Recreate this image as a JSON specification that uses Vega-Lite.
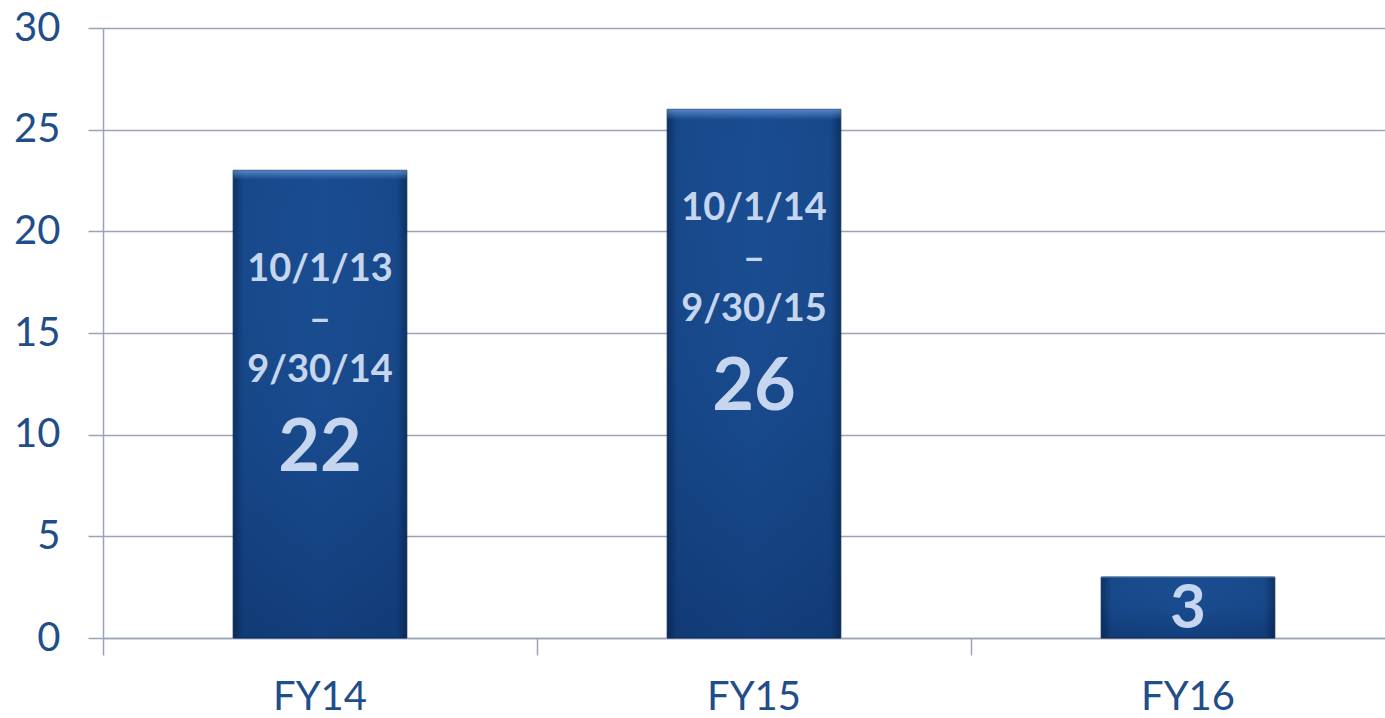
{
  "$schema": "https://vega.github.io/schema/vega-lite/v6.json",
  "autosize": "none",
  "padding": {"left": 103, "top": 28, "right": 0, "bottom": 80},
  "width": 1282,
  "height": 610,
  "background": "white",
  "config": {
    "view": {"stroke": null},
    "font": "Lato",
    "axis": {"labelFont": "Lato", "labelColor": "#1f4e8a", "labelFontSize": 40, "labelFontWeight": "normal"}
  },
  "data": {
    "values": [
      {"fy": "FY14", "value": 23, "label": "22", "start": "10/1/13", "end": "9/30/14"},
      {"fy": "FY15", "value": 26, "label": "26", "start": "10/1/14", "end": "9/30/15"},
      {"fy": "FY16", "value": 3, "label": "3", "start": null, "end": null}
    ]
  },
  "encoding": {
    "x": {
      "field": "fy", "type": "nominal", "sort": null,
      "scale": {"range": [0, 1302], "paddingInner": 0, "paddingOuter": 0},
      "axis": {
        "title": null, "labelAngle": 0, "domain": true, "domainColor": "#9aa3b8", "domainWidth": 1.5,
        "ticks": true, "tickSize": 17, "tickColor": "#9aa3b8", "tickWidth": 1.5, "bandPosition": 0,
        "labelPadding": 22, "grid": false
      }
    },
    "y": {
      "field": "value", "type": "quantitative",
      "scale": {"domain": [0, 30], "nice": false},
      "axis": {
        "title": null, "values": [0, 5, 10, 15, 20, 25, 30],
        "grid": true, "gridColor": "#9aa3b8", "gridWidth": 1.5,
        "domain": true, "domainColor": "#9aa3b8", "domainWidth": 1.5,
        "ticks": true, "tickSize": 15, "tickColor": "#9aa3b8", "tickWidth": 1.5,
        "labelPadding": 28
      }
    }
  },
  "layer": [
    {
      "mark": {
        "type": "bar", "width": {"band": 0.4}, "stroke": "#0c2c5a", "strokeWidth": 1,
        "color": {
          "gradient": "linear", "x1": 0, "y1": 0, "x2": 1, "y2": 0,
          "stops": [
            {"offset": 0, "color": "#0d3163"},
            {"offset": 0.06, "color": "#17488a"},
            {"offset": 0.5, "color": "#194c90"},
            {"offset": 0.94, "color": "#17488a"},
            {"offset": 1, "color": "#0d3163"}
          ]
        }
      }
    },
    {
      "mark": {
        "type": "bar", "width": {"band": 0.4},
        "color": {
          "gradient": "linear", "x1": 0, "y1": 0, "x2": 0, "y2": 1,
          "stops": [
            {"offset": 0, "color": "rgba(110,160,225,0.7)"},
            {"offset": 0.02, "color": "rgba(110,160,225,0.0)"},
            {"offset": 0.6, "color": "rgba(0,20,60,0.05)"},
            {"offset": 1, "color": "rgba(0,20,60,0.25)"}
          ]
        }
      }
    },
    {
      "transform": [{"filter": "datum.start != null"}],
      "mark": {"type": "text", "dy": 100, "baseline": "middle", "align": "center", "fontSize": 38, "fontWeight": "bold", "color": "#c6d6ee"},
      "encoding": {"text": {"field": "start"}}
    },
    {
      "transform": [{"filter": "datum.start != null"}],
      "mark": {"type": "text", "dy": 151, "baseline": "middle", "align": "center", "fontSize": 38, "fontWeight": "bold", "color": "#c6d6ee", "text": "–"},
      "encoding": {}
    },
    {
      "transform": [{"filter": "datum.start != null"}],
      "mark": {"type": "text", "dy": 201, "baseline": "middle", "align": "center", "fontSize": 38, "fontWeight": "bold", "color": "#c6d6ee"},
      "encoding": {"text": {"field": "end"}}
    },
    {
      "transform": [{"filter": "datum.start != null"}],
      "mark": {"type": "text", "dy": 279, "baseline": "middle", "align": "center", "fontSize": 72, "fontWeight": "bold", "color": "#c6d6ee"},
      "encoding": {"text": {"field": "label"}}
    },
    {
      "transform": [{"filter": "datum.start == null"}],
      "mark": {"type": "text", "dy": 32, "baseline": "middle", "align": "center", "fontSize": 62, "fontWeight": "bold", "color": "#c6d6ee"},
      "encoding": {"text": {"field": "label"}}
    }
  ]
}
